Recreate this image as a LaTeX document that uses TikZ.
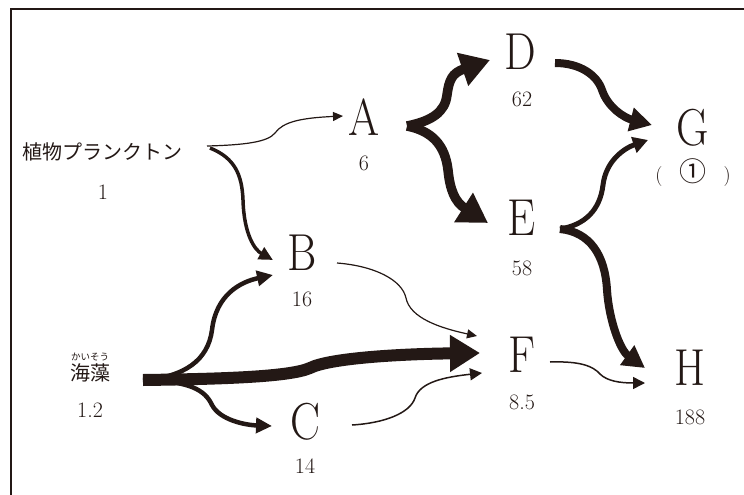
\documentclass[tikz,border=0pt]{standalone}
\usepackage{fontspec}
\usepackage{graphicx}
\newfontfamily\jpfont{Noto Sans CJK JP}
\usetikzlibrary{arrows.meta}
\definecolor{ink}{RGB}{35,24,21}
\newcommand\narrow[1]{\scalebox{0.86}[1]{#1}}
\begin{document}
\begin{tikzpicture}[x=1pt,y=-1pt,line cap=butt,
  letter/.style={font=\fontsize{52}{52}\selectfont, text=ink, inner sep=0pt},
  val/.style={font=\fontsize{22}{22}\selectfont, text=ink, inner sep=0pt},
  jlabel/.style={font=\jpfont\fontsize{20}{20}\selectfont, text=ink, inner sep=0pt},
  ruby/.style={font=\jpfont\fontsize{9.5}{9.5}\selectfont, text=ink, inner sep=0pt},
  conn/.style={draw=ink},
  thinA/.style={conn, line width=1.2pt, -{Triangle[length=10pt,width=9pt]}},
  thinB/.style={conn, line width=1.5pt, -{Triangle[length=12pt,width=12pt]}},
  medA/.style={conn, line width=3.5pt, -{Triangle[length=14pt,width=13pt]}},
  medB/.style={conn, line width=4.5pt, -{Triangle[length=16pt,width=15pt]}},
  medC/.style={conn, line width=5pt, -{Triangle[length=15pt,width=16pt]}},
  thickA/.style={conn, line width=8pt, -{Triangle[length=22pt,width=23pt]}},
  thickB/.style={conn, line width=9.5pt, -{Triangle[length=29pt,width=33pt]}},
  huge/.style={conn, line width=12pt, -{Triangle[length=30pt,width=35pt]}},
  frame/.style={draw=ink, line width=2pt}
]
\useasboundingbox (0,0) rectangle (744,495);
\draw[frame] (10.5,495) -- (10.5,9) -- (744,9);

% nodes
\node[jlabel] (plank) at (102,152) {植物プランクトン};
\node[val] (plankv) at (103,192) {1};
\node[jlabel] (kaiso) at (90,373) {海藻};
\node[ruby] (kaisor) at (90,357) {かいそう};
\node[val] (kaisov) at (90,410) {1.2};
\node[letter] (A) at (364,117) {\narrow{A}};
\node[val] (Av) at (364,163) {6};
\node[letter] (B) at (302,253) {\narrow{B}};
\node[val] (Bv) at (302,299) {16};
\node[letter] (C) at (305,422) {\narrow{C}};
\node[val] (Cv) at (305,466) {14};
\node[letter] (D) at (520,52) {\narrow{D}};
\node[val] (Dv) at (522,99) {62};
\node[letter] (E) at (522,218) {\narrow{E}};
\node[val] (Ev) at (522,268) {58};
\node[letter] (F) at (522,355) {\narrow{F}};
\node[val] (Fv) at (522,402) {8.5};
\node[letter] (G) at (693,128) {\narrow{G}};
\node[font=\fontsize{20}{20}\selectfont, text=ink, inner sep=0pt] (Gv) at (693,173) {(\hspace{17pt}{\jpfont\fontsize{27}{27}\selectfont ①}\hspace{17pt})};
\node[letter] (H) at (690,368) {\narrow{H}};
\node[val] (Hv) at (690,417) {188};

% connector end points
\coordinate (plank-out1) at (207,146);
\coordinate (plank-out2) at (210,148);
\coordinate (kaiso-out) at (143,380);
\coordinate (A-in) at (343,116);
\coordinate (A-out) at (407,126);
\coordinate (B-in1) at (273,260);
\coordinate (B-in2) at (273,275);
\coordinate (B-out) at (337,263);
\coordinate (C-in) at (272,426);
\coordinate (C-out) at (352,425);
\coordinate (D-in) at (490,60);
\coordinate (D-out) at (555,63);
\coordinate (E-in) at (488,223);
\coordinate (E-out) at (560,229);
\coordinate (F-in1) at (477,336);
\coordinate (F-in2) at (480,353);
\coordinate (F-in3) at (482,373);
\coordinate (F-out) at (550,362);
\coordinate (G-in1) at (652,125);
\coordinate (G-in2) at (648,140);
\coordinate (H-in1) at (645,368);
\coordinate (H-in2) at (645,383);

% connectors
\draw[thinA] (plank-out1) .. controls (245,145) and (268,142) .. (275,133)
  .. controls (283,122) and (300,118) .. (A-in);
\draw[medA] (plank-out2) .. controls (235,158) and (242,175) .. (243,200)
  .. controls (244,235) and (255,250) .. (B-in1);
\draw[medB] (kaiso-out) .. controls (185,377) and (208,360) .. (212,330)
  .. controls (216,295) and (240,282) .. (B-in2);
\draw[huge] (kaiso-out) .. controls (220,379) and (290,377) .. (310,368)
  .. controls (330,358) and (400,354) .. (F-in2);
\draw[medB] (kaiso-out) .. controls (190,381) and (205,390) .. (212,405)
  .. controls (220,420) and (245,425) .. (C-in);
\draw[thinA] (B-out) .. controls (375,266) and (402,280) .. (406,298)
  .. controls (410,318) and (440,328) .. (F-in1);
\draw[thinB] (C-out) .. controls (385,423) and (410,413) .. (415,398)
  .. controls (420,382) and (445,377) .. (F-in3);
\draw[thickB] (A-out) .. controls (432,121) and (445,112) .. (447,95)
  .. controls (449,80) and (452,73) .. (D-in);
\draw[thickB] (A-out) .. controls (432,131) and (445,145) .. (448,170)
  .. controls (450,190) and (455,202) .. (E-in);
\draw[thickA] (D-out) .. controls (580,63) and (597,75) .. (602,90)
  .. controls (608,108) and (625,118) .. (G-in1);
\draw[medC] (E-out) .. controls (585,225) and (600,210) .. (603,185)
  .. controls (606,160) and (625,148) .. (G-in2);
\draw[thickA] (E-out) .. controls (590,232) and (605,255) .. (607,290)
  .. controls (609,320) and (620,350) .. (H-in1);
\draw[thinB] (F-out) .. controls (580,361) and (593,366) .. (600,374)
  .. controls (607,381) and (620,383) .. (H-in2);
\end{tikzpicture}
\end{document}
